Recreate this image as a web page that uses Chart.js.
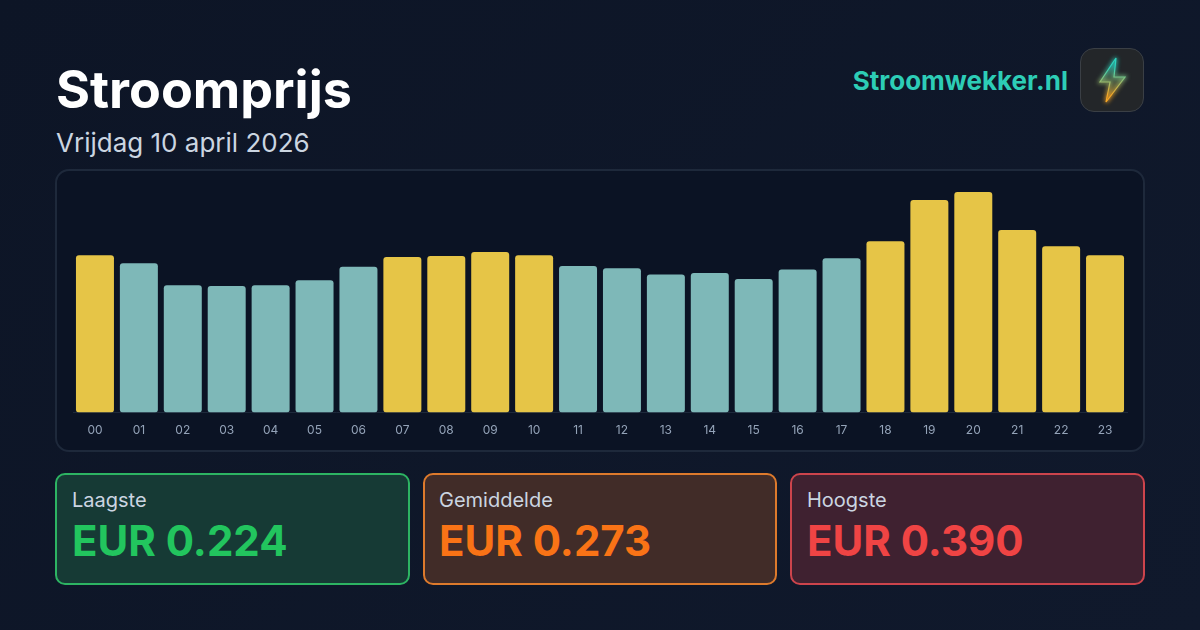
<!DOCTYPE html>
<html lang="nl">
<head>
<meta charset="utf-8">
<title>Stroomprijs</title>
<script src="https://cdn.jsdelivr.net/npm/chart.js@4"></script>
<style>
  html, body { margin: 0; padding: 0; }
  body {
    width: 1200px; height: 630px; position: relative; overflow: hidden;
    background: #0f172a;
    background: linear-gradient(135deg, #0d1526 0%, #10192c 100%);
    font-family: Inter, sans-serif;
  }
  .abs { position: absolute; white-space: nowrap; }
  #title { left: 56px; top: 58px; font-size: 52px; line-height: 63px; font-weight: 700; color: #fff; }
  #sub { left: 56px; top: 127px; font-size: 26px; line-height: 32px; color: #cbd5e1; }
  #brand { right: 132px; top: 65px; font-size: 26px; line-height: 32px; font-weight: 700; color: #2dcdb6; }
  #logo {
    left: 1080px; top: 48px; width: 62px; height: 62px; border-radius: 14px;
    background: #232629; border: 1px solid #3a3f45;
  }
  #panel {
    left: 55px; top: 169px; width: 1086px; height: 279px; border-radius: 14px;
    background: #0b1324; border: 2px solid #1e293b;
  }
  #wrap { position: absolute; left: 55px; top: 169px; width: 1090px; height: 283px; }
  .card {
    position: absolute; top: 473px; width: 351px; height: 108px; border-radius: 10px;
    border: 2px solid;
  }
  .card .lab { position: absolute; left: 15px; top: 13px; font-size: 20px; line-height: 24px; color: #cbd5e1; }
  .card .val { position: absolute; left: 15px; top: 40px; font-size: 42px; line-height: 52px; font-weight: 700; }
</style>
</head>
<body>
<div class="abs" id="title">Stroomprijs</div>
<div class="abs" id="sub">Vrijdag 10 april 2026</div>
<div class="abs" id="brand">Stroomwekker.nl</div>
<div class="abs" id="logo">
  <svg width="62" height="62" viewBox="0 0 62 62">
    <defs>
      <linearGradient id="bolt" x1="0" y1="0" x2="0" y2="1">
        <stop offset="0.2" stop-color="#2dd4bf"/>
        <stop offset="0.85" stop-color="#f9a825"/>
      </linearGradient>
      <filter id="glow" x="-60%" y="-60%" width="220%" height="220%">
        <feGaussianBlur stdDeviation="2"/>
      </filter>
    </defs>
    <path d="M35 9 L19 33 L29 33 L25 53 L44 28 L33 28 Z" fill="none" stroke="url(#bolt)" stroke-width="3" opacity="0.8" filter="url(#glow)"/>
    <path d="M35 9 L19 33 L29 33 L25 53 L44 28 L33 28 Z" fill="url(#bolt)" fill-opacity="0.3" stroke="url(#bolt)" stroke-width="1.2"/>
  </svg>
</div>
<div class="abs" id="panel"></div>
<div id="wrap"><canvas id="priceChart"></canvas></div>

<div class="card" style="left:55px;background:#163a35;border-color:#2db463">
  <div class="lab">Laagste</div><div class="val" style="color:#22c55e">EUR 0.224</div>
</div>
<div class="card" style="left:423px;width:350px;background:#412c28;border-color:#dd7a2c">
  <div class="lab" style="left:14px">Gemiddelde</div><div class="val" style="left:14px;color:#f97316">EUR 0.273</div>
</div>
<div class="card" style="left:790px;background:#3f2130;border-color:#cc444c">
  <div class="lab">Hoogste</div><div class="val" style="color:#ef4444">EUR 0.390</div>
</div>

<script>
const hours = ['00','01','02','03','04','05','06','07','08','09','10','11','12','13','14','15','16','17','18','19','20','21','22','23'];
const prices = [0.278,0.264,0.225,0.224,0.225,0.234,0.258,0.275,0.277,0.284,0.278,0.259,0.255,0.244,0.247,0.236,0.253,0.273,0.303,0.376,0.390,0.323,0.294,0.278];
const highHours = ['00','07','08','09','10','18','19','20','21','22','23'];

const ctx = document.getElementById('priceChart').getContext('2d');
var priceChart = new Chart(ctx, {
  type: 'bar',
  data: {
    labels: hours,
    datasets: [{
      data: prices,
      backgroundColor: hours.map(h => highHours.includes(h) ? '#e6c547' : '#7eb8b8'),
      borderRadius: 3,
      borderSkipped: false,
      barPercentage: 0.865,
      categoryPercentage: 1
    }]
  },
  options: {
    responsive: true,
    maintainAspectRatio: false,
    animation: false,
    layout: { padding: { left: 18, right: 18, top: 23, bottom: 11 } },
    plugins: { legend: { display: false }, tooltip: { enabled: false } },
    scales: {
      x: {
        grid: { display: false },
        border: { color: '#1e293b' },
        ticks: { color: '#94a3b8', font: { family: 'Inter', size: 12 }, padding: 3, maxRotation: 0, autoSkip: false }
      },
      y: { display: false, min: 0, max: 0.39 }
    }
  }
});
</script>
</body>
</html>
